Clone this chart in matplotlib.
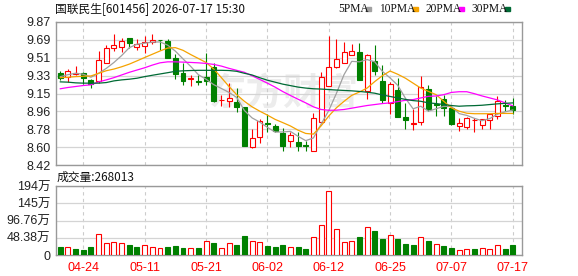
import numpy as np
import pandas as pd
import matplotlib
matplotlib.use('Agg')
import matplotlib.pyplot as plt
from matplotlib.patches import Rectangle

# trading days shown (A-share calendar, holidays removed)
dates = pd.bdate_range('2026-04-21', '2026-07-17', freq='C',
                       holidays=['2026-05-01', '2026-05-04', '2026-05-05', '2026-06-19'])
day_labels = list(dates.strftime('%m-%d'))
tick_days = ['04-24', '05-11', '05-21', '06-02', '06-12', '06-25', '07-07', '07-17']

opens = [9.35, 9.31, 9.346, 9.35, 9.28, 9.267, 9.45, 9.61, 9.616, 9.71,
         9.62, 9.63, 9.67, 9.69, 9.673, 9.503, 9.35, 9.29, 9.275, 9.31,
         9.416, 9.08, 9.066, 9.063, 9.01, 8.60, 8.706, 8.843, 8.813, 8.74,
         8.66, 8.65, 8.623, 8.566, 8.86, 9.223, 9.416, 9.45, 9.54, 9.57,
         9.173, 9.473, 9.273, 9.05, 9.183, 8.903, 8.836, 8.856, 9.193, 9.036,
         9.093, 8.993, 8.816, 8.806, 8.876, 8.83, 8.88, 8.916, 9.03, 9.023]
highs = [9.37, 9.39, 9.423, 9.36, 9.29, 9.58, 9.633, 9.75, 9.71, 9.71,
         9.70, 9.723, 9.75, 9.69, 9.70, 9.55, 9.45, 9.333, 9.333, 9.56,
         9.45, 9.133, 9.25, 9.20, 9.01, 8.783, 8.89, 8.933, 8.833, 8.80,
         8.75, 8.756, 8.666, 8.95, 9.366, 9.726, 9.693, 9.663, 9.65, 9.656,
         9.55, 9.633, 9.433, 9.266, 9.30, 9.05, 8.99, 9.323, 9.233, 9.123,
         9.133, 8.993, 8.90, 8.91, 8.90, 8.883, 8.94, 9.123, 9.083, 9.10]
lows = [9.28, 9.26, 9.33, 9.24, 9.20, 9.256, 9.45, 9.576, 9.566, 9.61,
        9.583, 9.56, 9.65, 9.59, 9.50, 9.296, 9.233, 9.216, 9.233, 9.233,
        9.06, 9.016, 9.01, 8.956, 8.61, 8.59, 8.64, 8.75, 8.75, 8.566,
        8.606, 8.566, 8.56, 8.566, 8.86, 9.223, 9.406, 9.45, 9.54, 9.283,
        9.093, 9.333, 9.05, 8.94, 8.91, 8.79, 8.776, 8.823, 8.966, 8.916,
        8.916, 8.823, 8.766, 8.783, 8.756, 8.783, 8.79, 8.89, 8.966, 8.933]
closes = [9.30, 9.373, 9.35, 9.30, 9.24, 9.48, 9.61, 9.64, 9.676, 9.656,
          9.643, 9.67, 9.683, 9.686, 9.50, 9.343, 9.276, 9.30, 9.263, 9.27,
          9.066, 9.083, 9.10, 9.006, 8.61, 8.693, 8.866, 8.833, 8.766, 8.616,
          8.723, 8.616, 8.613, 8.90, 9.31, 9.416, 9.49, 9.565, 9.573, 9.283,
          9.533, 9.376, 9.083, 9.24, 8.91, 8.876, 8.843, 9.21, 8.99, 9.03,
          9.0, 8.833, 8.85, 8.90, 8.88, 8.883, 8.94, 9.07, 9.023, 8.976]

ma5 = [9.316, 9.336, 9.35, 9.34, 9.31, 9.35, 9.40, 9.46, 9.53, 9.61,
       9.645, 9.655, 9.666, 9.668, 9.635, 9.575, 9.496, 9.42, 9.336, 9.29,
       9.235, 9.196, 9.156, 9.105, 8.973, 8.898, 8.855, 8.802, 8.754, 8.755,
       8.761, 8.711, 8.667, 8.694, 8.833, 8.972, 9.146, 9.337, 9.471, 9.466,
       9.489, 9.466, 9.369, 9.303, 9.228, 9.097, 8.99, 9.016, 8.966, 8.99,
       9.015, 9.013, 8.941, 8.923, 8.893, 8.869, 8.891, 8.935, 8.959, 8.978]
ma10 = [9.306, 9.31, 9.316, 9.32, 9.323, 9.35, 9.376, 9.393, 9.416, 9.443,
        9.476, 9.51, 9.543, 9.576, 9.606, 9.61, 9.583, 9.54, 9.50, 9.46,
        9.393, 9.306, 9.216, 9.133, 9.066, 9.01, 8.966, 8.926, 8.883, 8.85,
        8.816, 8.773, 8.74, 8.733, 8.816, 8.916, 9.0, 9.066, 9.126, 9.16,
        9.20, 9.266, 9.326, 9.373, 9.34, 9.30, 9.25, 9.20, 9.166, 9.133,
        9.066, 9.0, 8.966, 8.945, 8.94, 8.94, 8.94, 8.943, 8.943, 8.943]
ma20 = [9.193, 9.206, 9.216, 9.226, 9.233, 9.263, 9.283, 9.306, 9.333, 9.36,
        9.383, 9.406, 9.433, 9.456, 9.466, 9.466, 9.463, 9.46, 9.456, 9.45,
        9.44, 9.423, 9.40, 9.38, 9.36, 9.325, 9.288, 9.25, 9.21, 9.165,
        9.125, 9.087, 9.05, 9.01, 8.983, 8.975, 8.976, 8.983, 8.996, 9.01,
        9.023, 9.033, 9.043, 9.05, 9.063, 9.076, 9.083, 9.10, 9.116, 9.12,
        9.133, 9.156, 9.163, 9.163, 9.143, 9.12, 9.10, 9.08, 9.05, 9.02]
ma30 = [9.263, 9.26, 9.253, 9.25, 9.25, 9.25, 9.256, 9.273, 9.283, 9.29,
        9.30, 9.316, 9.33, 9.343, 9.356, 9.37, 9.375, 9.378, 9.38, 9.38,
        9.38, 9.38, 9.378, 9.37, 9.35, 9.333, 9.305, 9.28, 9.26, 9.24,
        9.225, 9.21, 9.20, 9.193, 9.19, 9.185, 9.18, 9.176, 9.172, 9.166,
        9.158, 9.148, 9.13, 9.115, 9.10, 9.085, 9.073, 9.066, 9.05, 9.043,
        9.033, 9.023, 9.016, 9.02, 9.022, 9.026, 9.033, 9.04, 9.045, 9.05]

# volume in 万 shares
volume_wan = [21.3, 22, 17.6, 14.8, 23.2, 58.6, 33.5, 36.3, 34.4, 28.8,
              21.3, 27.9, 23.2, 20.4, 23.2, 26, 18.5, 20.4, 18.5, 40,
              34.4, 19.5, 34.4, 28.8, 53.9, 40, 37.1, 26, 21.3, 28.8,
              23.2, 23.2, 15.7, 51.1, 83.8, 178.8, 72.6, 36.3, 39.1, 51.1,
              78.2, 67.9, 45.5, 55.9, 45.5, 31.6, 28.8, 50.3, 40, 31.6,
              26, 20.4, 14.8, 17.6, 17.6, 20.4, 17.6, 27.9, 17.6, 26.8]
last_volume = 268013

price_ticks = ['8.42', '8.60', '8.78', '8.96', '9.15', '9.33', '9.51', '9.69', '9.87']
vol_ticks = [0, 48.38, 96.76, 145.14, 193.52]
vol_tick_labels = ['0', '48.38万', '96.76万', '145万', '194万']

RED = '#ff0000'
GREEN = '#008000'
ma_colors = ['#a0a0a0', '#f5a300', '#ff00ff', '#006a35']

W, H = 578, 276


def fx(x):
    return x / W


def fy(y):
    return 1 - y / H


cjk = ['Noto Sans CJK SC', 'DejaVu Sans']
num = ['Liberation Sans', 'Noto Sans CJK SC']

fig = plt.figure(figsize=(W / 100, H / 100), dpi=100)
ax = fig.add_axes([fx(56), fy(165), fx(466), 143 / H])
axv = fig.add_axes([fx(56), fy(255), fx(466), 69 / H])

x = np.arange(len(closes))
o, h, l, c = map(np.array, (opens, highs, lows, closes))
up = c >= o
vol = np.array(volume_wan) * 10000
vol_up = np.r_[False, np.diff(c) >= 0]
tick_pos = [day_labels.index(d) for d in tick_days]

bw = 0.65
# wicks, then bodies on top (red bodies filled white)
ax.vlines(x, l, h, colors=np.where(up, RED, GREEN), lw=0.8, zorder=3)
body_low = np.minimum(o, c)
body_h = np.maximum(np.abs(c - o), 0.004)
ax.bar(x, body_h, bw, bottom=body_low, color=np.where(up, 'white', GREEN),
       edgecolor=np.where(up, RED, GREEN), lw=0.8, zorder=4)

for ma, col in zip([ma5, ma10, ma20, ma30], ma_colors):
    ax.plot(x, ma, color=col, lw=0.9, zorder=5)

ax.text(0.49, 0.5, '东方财富', transform=ax.transAxes, fontsize=27,
        fontweight='bold', color='#ececec', family=cjk, ha='center',
        va='center', zorder=1)

axv.bar(x, vol, bw, color=np.where(vol_up, 'white', GREEN),
        edgecolor=np.where(vol_up, RED, GREEN), lw=0.8, zorder=3)

ax.set_ylim(8.42, 9.87)
ax.set_yticks(np.linspace(8.42, 9.87, 9))
ax.set_yticklabels(price_ticks)
axv.set_ylim(0, vol_ticks[-1] * 10000)
axv.set_yticks(np.array(vol_ticks) * 10000)
axv.set_yticklabels(vol_tick_labels)

for a in (ax, axv):
    a.set_xlim(-0.56, 60.2)
    a.set_xticks(tick_pos)
    a.grid(axis='y', color='#d4d4d4', lw=0.9, zorder=0)
    a.grid(axis='x', color='#cccccc', lw=0.8, ls=(0, (3, 3)), zorder=0)
    a.tick_params(length=0, pad=4, labelsize=9)
    for s in a.spines.values():
        s.set_color('#999999')
        s.set_linewidth(1.0)
    for t in a.get_yticklabels():
        t.set_family(num)
        t.set_color('#222222')

ax.set_xticklabels([])
axv.set_xticklabels(tick_days, color=RED, family=num, fontsize=9)
axv.tick_params(axis='x', pad=5)

fig.text(fx(55), fy(9), '国联民生[601456] 2026-07-17 15:30', family=cjk,
         fontsize=8.5, ha='left', va='center', color='#111111')
fig.text(fx(57), fy(177), '成交量:%d' % last_volume, family=cjk,
         fontsize=8.5, ha='left', va='center', color='#111111')

legend_names = ['5PMA', '10PMA', '20PMA', '30PMA']
legend_x = [338, 379, 425, 471]
marker_x = [366, 413, 459, 505]
for name, lx, mx, col in zip(legend_names, legend_x, marker_x, ma_colors):
    fig.text(fx(lx), fy(9), name, family='Liberation Serif', fontsize=8.3,
             ha='left', va='center', color='#111111')
    fig.add_artist(Rectangle((fx(mx), fy(10.5)), fx(5), 3 / H,
                             transform=fig.transFigure, color=col))

fig.savefig('out.png', dpi=100)
